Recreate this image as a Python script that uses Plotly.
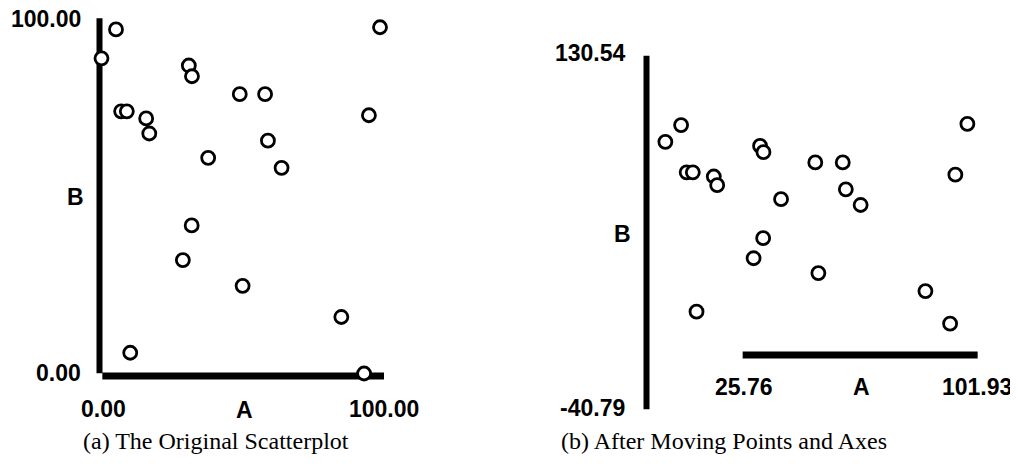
import plotly.graph_objects as go

# ---- data (same 21 records shown in both panels) ----
A = [5.8, 0.7, 98.6, 31.4, 32.5, 49.3, 58.2, 7.6, 9.6, 16.4, 17.5,
     94.7, 59.2, 38.2, 64.0, 32.4, 29.3, 50.3, 85.0, 10.8, 93.0]
B = [96.9, 88.8, 97.5, 86.8, 83.8, 78.8, 78.8, 74.0, 74.0, 72.0, 67.8,
     72.9, 65.8, 61.0, 58.2, 42.1, 32.4, 25.2, 16.5, 6.5, 0.7]

# axis extents (data units)
left_A_range = [0.0, 100.0]
left_B_range = [0.0, 100.0]
right_A_range = [25.76, 101.93]
right_B_range = [-40.79, 130.54]
right_B_axis_at_A = -5.41     # where the moved B axis sits
right_A_axis_at_B = -14.49    # where the moved A axis sits

captions = ["(a) The Original Scatterplot", "(b) After Moving Points and Axes"]
axis_names = ["A", "B"]

# page is shown with the browser's 8px body margin -> shrink the figure
OFF = 8
PW, PH = 1018, 466
W, H = PW - OFF, PH - OFF

def xrange_for(px0, scale):
    """px0: page x of A=0; scale: px per unit"""
    p = px0 - OFF
    return [(0 - p) / scale, (W - p) / scale]

def yrange_for(py0, scale):
    """py0: page y of B=0; scale: px per unit"""
    p = py0 - OFF
    return [-(H - p) / scale, p / scale]

LBL = dict(family="Liberation Sans, Arial, sans-serif", size=23, color="black", weight="bold")
CAP = dict(family="Liberation Serif, Times New Roman, serif", size=24, color="black")

fig = go.Figure()
marker = dict(symbol="circle", size=13, color="white", line=dict(color="black", width=2.8))
fig.add_trace(go.Scatter(x=A, y=B, mode="markers", marker=marker, xaxis="x", yaxis="y",
                         showlegend=False, hoverinfo="skip", cliponaxis=False))
fig.add_trace(go.Scatter(x=A, y=B, mode="markers", marker=marker, xaxis="x2", yaxis="y2",
                         showlegend=False, hoverinfo="skip", cliponaxis=False))

def fmt(v):
    return f"{v:.2f}"

shapes = []
ann = []
LW = 6
# ---- left panel axes ----
shapes.append(dict(type="line", xref="x", yref="y", x0=left_A_range[0], x1=left_A_range[0],
                   y0=left_B_range[0] + 0.8, y1=left_B_range[1], line=dict(color="black", width=LW), layer="below"))
shapes.append(dict(type="line", xref="x", yref="y", x0=left_A_range[0] + 1.0, x1=left_A_range[1],
                   y0=left_B_range[0], y1=left_B_range[0], line=dict(color="black", width=LW + 1), layer="below"))

def a(text, x, y, xref, yref, xanchor="center", xshift=0, yshift=0, font=LBL):
    ann.append(dict(text=text, x=x, y=y, xref=xref, yref=yref, xanchor=xanchor, yanchor="middle",
                    xshift=xshift, yshift=yshift, showarrow=False, font=font))

a(fmt(left_B_range[1]), left_A_range[0], left_B_range[1], "x", "y", "right", -17, -1)
a(fmt(left_B_range[0]), left_A_range[0], left_B_range[0], "x", "y", "right", -17, 3)
a(axis_names[1], left_A_range[0], sum(left_B_range) / 2, "x", "y", "center", -24.5, 0)
a(fmt(left_A_range[0]), left_A_range[0], left_B_range[0], "x", "y", "center", 3.5, -33)
a(fmt(left_A_range[1]), left_A_range[1], left_B_range[0], "x", "y", "center", 0, -33)
a(axis_names[0], sum(left_A_range) / 2, left_B_range[0], "x", "y", "center", 3, -34)

# ---- right panel axes ----
shapes.append(dict(type="line", xref="x2", yref="y2", x0=right_B_axis_at_A, x1=right_B_axis_at_A,
                   y0=right_B_range[0], y1=right_B_range[1], line=dict(color="black", width=LW), layer="below"))
shapes.append(dict(type="line", xref="x2", yref="y2", x0=right_A_range[0], x1=right_A_range[1],
                   y0=right_A_axis_at_B, y1=right_A_axis_at_B, line=dict(color="black", width=LW + 1), layer="below"))

a(fmt(right_B_range[1]), right_B_axis_at_A, right_B_range[1], "x2", "y2", "right", -18.5, 2.5)
a(fmt(right_B_range[0]), right_B_axis_at_A, right_B_range[0], "x2", "y2", "right", -19.5, 1)
a(axis_names[1], right_B_axis_at_A, sum(right_B_range) / 2, "x2", "y2", "center", -24.5, -1.5)
a(fmt(right_A_range[0]), right_A_range[0], right_A_axis_at_B, "x2", "y2", "center", 1, -32)
a(axis_names[0], sum(right_A_range) / 2, right_A_axis_at_B, "x2", "y2", "center", 1, -32)
a(fmt(right_A_range[1]), right_A_range[1], right_A_axis_at_B, "x2", "y2", "center", -1, -32)

# ---- captions ----
for cx, txt in zip([216, 724], captions):
    ann.append(dict(text=txt, x=(cx - OFF) / W, y=1 - (441 - OFF) / H, xref="paper", yref="paper",
                    xanchor="center", yanchor="middle", showarrow=False, font=CAP))

hidden = dict(visible=False, showgrid=False, zeroline=False, fixedrange=True)
fig.update_layout(
    width=W, height=H, margin=dict(l=0, r=0, t=0, b=0),
    paper_bgcolor="white", plot_bgcolor="white",
    xaxis=dict(domain=[0, 1], range=xrange_for(99.5, 2.845), **hidden),
    yaxis=dict(domain=[0, 1], range=yrange_for(376.0, 3.577), anchor="x", **hidden),
    xaxis2=dict(domain=[0, 1], range=xrange_for(663.2, 3.085), anchor="y2", overlaying="x", **hidden),
    yaxis2=dict(domain=[0, 1], range=yrange_for(325.1, 2.064), anchor="x2", overlaying="y", **hidden),
    shapes=shapes, annotations=ann,
)

fig.write_html("out.html")
